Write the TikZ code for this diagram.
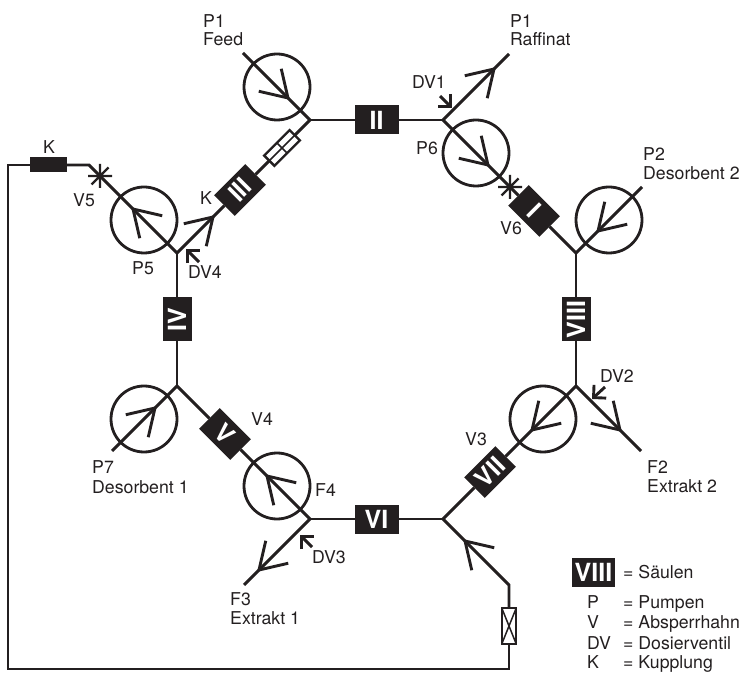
\documentclass[tikz,border=0pt]{standalone}
\usepackage{xcolor}
\usepackage{fontspec}
\setmainfont{TeX Gyre Heros}
\usepackage{tikz}
\usetikzlibrary{arrows.meta}

\definecolor{ink}{HTML}{231F20}
\newcommand{\lblfont}{\fontsize{17.7}{19}\selectfont}
\newcommand{\colfont}{\fontsize{25}{25}\selectfont\bfseries}

\tikzset{
    barb/.pic={\draw[pipe] (148:30) -- (0,0) -- (212:30);},
    stopcock/.pic={\draw[pipe, line width=2.2pt] (-12,0) -- (12,0) (0,-12) -- (0,12) (-8.5,-8.5) -- (8.5,8.5);}
}

\begin{document}
\begin{tikzpicture}[x=1pt, y=1pt,
        pipe/.style={draw=ink, line width=2.9pt},
        dose/.style={draw=ink, line width=2.9pt, -{Straight Barb[length=9pt, width=18pt]}},
        pump/.style={circle, draw=ink, line width=2.8pt, minimum size=66pt, inner sep=0pt, outer sep=0pt},
        column/.style={rectangle, fill=ink, text=white, font=\colfont, minimum width=44pt, minimum height=29pt, inner sep=0pt, outer sep=0pt},
        valvebox/.style={rectangle, draw=ink, fill=white, line width=2.4pt, minimum width=36pt, minimum height=14.5pt, inner sep=0pt, outer sep=0pt,
            path picture={\draw[ink, line width=1.5pt] (path picture bounding box.north west) -- (path picture bounding box.south east)
                (path picture bounding box.south west) -- (path picture bounding box.north east);}},
        coupling/.style={rectangle, fill=ink, minimum width=37pt, minimum height=15pt, inner sep=0pt, outer sep=0pt},
        lbl/.style={anchor=base west, font=\lblfont, text=ink, inner sep=0pt, align=left}]
        \useasboundingbox (0,0) rectangle (743,672);

        \coordinate (j1) at (310,552);
        \coordinate (j2) at (443,552);
        \coordinate (j3) at (576,419);
        \coordinate (j4) at (576,286);
        \coordinate (j5) at (443,153);
        \coordinate (j6) at (310,153);
        \coordinate (j7) at (177,286);
        \coordinate (j8) at (177,419);

        \coordinate (feedend) at (243,619);
        \coordinate (raffend) at (509,618);
        \coordinate (desbzend) at (642,485);
        \coordinate (ext2end) at (641,221);
        \coordinate (ext1end) at (244,87);
        \coordinate (desbaend) at (112,221);
        \coordinate (stopv5) at (100,496);
        \coordinate (stopv6) at (510,485);
        \coordinate (bendb) at (89,507);
        \coordinate (bendc) at (8,507);
        \coordinate (bendd) at (8,3);
        \coordinate (bende) at (509,3);
        \coordinate (bendf) at (509,87);

        \node (colI) [column, rotate=-45] at (534,461) {I};
        \node (colII) [column] at (376.5,552) {II};
        \node (colIII) [column, rotate=45] at (240,482) {III};
        \node (colIV) [column, rotate=90] at (177,352.5) {IV};
        \node (colV) [column, rotate=-45] at (225,238) {V};
        \node (colVI) [column] at (376.5,153) {VI};
        \node (colVII) [column, rotate=45] at (490,200) {VII};
        \node (colVIII) [column, rotate=90] at (576,352.5) {VIII};

        \node (pumpfeed) [pump] at (277,585) {};
        \node (pumpsix) [pump] at (476,519) {};
        \node (pumptwo) [pump] at (609,452) {};
        \node (pumpthree) [pump] at (543,253) {};
        \node (pumpfour) [pump] at (277,186) {};
        \node (pumpseven) [pump] at (144,253) {};
        \node (pumpfive) [pump] at (144,452) {};

        \node (valvetop) [valvebox, rotate=45] at (282,524) {};
        \node (valveback) [valvebox, rotate=90] at (509,46) {};
        \node (couplk) [coupling] at (48.5,507) {};

        \draw[pipe] (j1) -- (colII) -- (j2);
        \draw[pipe] (j2) -- (pumpsix.center) -- (stopv6) -- (colI) -- (j3);
        \draw[pipe] (j3) -- (colVIII) -- (j4);
        \draw[pipe] (j4) -- (pumpthree.center) -- (colVII) -- (j5);
        \draw[pipe] (j5) -- (colVI) -- (j6);
        \draw[pipe] (j6) -- (pumpfour.center) -- (colV) -- (j7);
        \draw[pipe] (j7) -- (colIV) -- (j8);
        \draw[pipe] (j8) -- (colIII) -- (valvetop) -- (j1);
        \draw[pipe] (j1) -- (pumpfeed.center) -- (feedend);
        \draw[pipe] (j2) -- (raffend);
        \draw[pipe] (j3) -- (pumptwo.center) -- (desbzend);
        \draw[pipe] (j4) -- (ext2end);
        \draw[pipe] (j6) -- (ext1end);
        \draw[pipe] (j7) -- (pumpseven.center) -- (desbaend);
        \draw[pipe] (j8) -- (pumpfive.center) -- (stopv5) -- (bendb) -- (couplk);
        \draw[pipe] (couplk) -- (bendc) -- (bendd) -- (bende) -- (valveback);
        \draw[pipe] (valveback) -- (bendf) -- (j5);

        \pic[rotate=-45] at (288,574) {barb};
        \pic[rotate=-45] at (488,507) {barb};
        \pic[rotate=225] at (598,441) {barb};
        \pic[rotate=225] at (532,242) {barb};
        \pic[rotate=45] at (494,603) {barb};
        \pic[rotate=-45] at (620,242) {barb};
        \pic[rotate=135] at (465,131) {barb};
        \pic[rotate=135] at (133,463) {barb};
        \pic[rotate=45] at (213,455) {barb};
        \pic[rotate=45] at (155,264) {barb};
        \pic[rotate=135] at (267,196) {barb};
        \pic[rotate=225] at (259,102) {barb};

        \pic at (stopv5) {stopcock};
        \pic at (stopv6) {stopcock};

        \coordinate (dvatail) at (440,576);
        \coordinate (dvatip) at (452,564);
        \coordinate (dvbtail) at (605,285);
        \coordinate (dvbtip) at (592,273);
        \coordinate (dvctail) at (312,125);
        \coordinate (dvctip) at (300,137);
        \coordinate (dvdtail) at (199,410);
        \coordinate (dvdtip) at (186,423);
        \draw[dose] (dvatail) -- (dvatip);
        \draw[dose] (dvbtail) -- (dvbtip);
        \draw[dose] (dvctail) -- (dvctip);
        \draw[dose] (dvdtail) -- (dvdtip);

        \node (lblfeedp) [lbl] at (203,644) {P1};
        \node (lblfeed) [lbl] at (203,626) {Feed};
        \node (lblraffp) [lbl] at (510,644) {P1};
        \node (lblraff) [lbl] at (510,626) {Raffinat};
        \node (lbldva) [lbl] at (412,583) {DV1};
        \node (lblpsix) [lbl] at (416,517) {P6};
        \node (lblvsix) [lbl] at (500,437) {V6};
        \node (lblptwo) [lbl] at (643,511) {P2};
        \node (lbldesbz) [lbl] at (643,492) {Desorbent 2};
        \node (lbldvb) [lbl] at (600,289) {DV2};
        \node (lblfb) [lbl] at (647,199) {F2};
        \node (lblextb) [lbl] at (647,180) {Extrakt 2};
        \node (lblvthree) [lbl] at (465,226) {V3};
        \node (lblkcol) [lbl] at (200,467) {K};
        \node (lblkb) [lbl] at (43,518) {K};
        \node (lblvfive) [lbl] at (73,465) {V5};
        \node (lblpfive) [lbl] at (132,397) {P5};
        \node (lbldvd) [lbl] at (188,393) {DV4};
        \node (lblpseven) [lbl] at (92,199) {P7};
        \node (lbldesba) [lbl] at (92,179) {Desorbent 1};
        \node (lblvfour) [lbl] at (251,247) {V4};
        \node (lblffour) [lbl] at (315,176) {F4};
        \node (lbldvc) [lbl] at (312,109) {DV3};
        \node (lblfc) [lbl] at (230,67) {F3};
        \node (lblextc) [lbl] at (230,48) {Extrakt 1};

        \node (legcol) [column, minimum width=43pt] at (593.5,99.5) {VIII};
        \node (legcoltxt) [lbl] at (623,94) {= Säulen};
        \node (legp) [lbl] at (587,64) {P};
        \node (legptxt) [lbl] at (623,64) {= Pumpen};
        \node (legv) [lbl] at (587,44) {V};
        \node (legvtxt) [lbl] at (623,44) {= Absperrhahn};
        \node (legdv) [lbl] at (587,23) {DV};
        \node (legdvtxt) [lbl] at (623,23) {= Dosierventil};
        \node (legk) [lbl] at (587,4) {K};
        \node (legktxt) [lbl] at (623,4) {= Kupplung};
    \end{tikzpicture}
\end{document}
